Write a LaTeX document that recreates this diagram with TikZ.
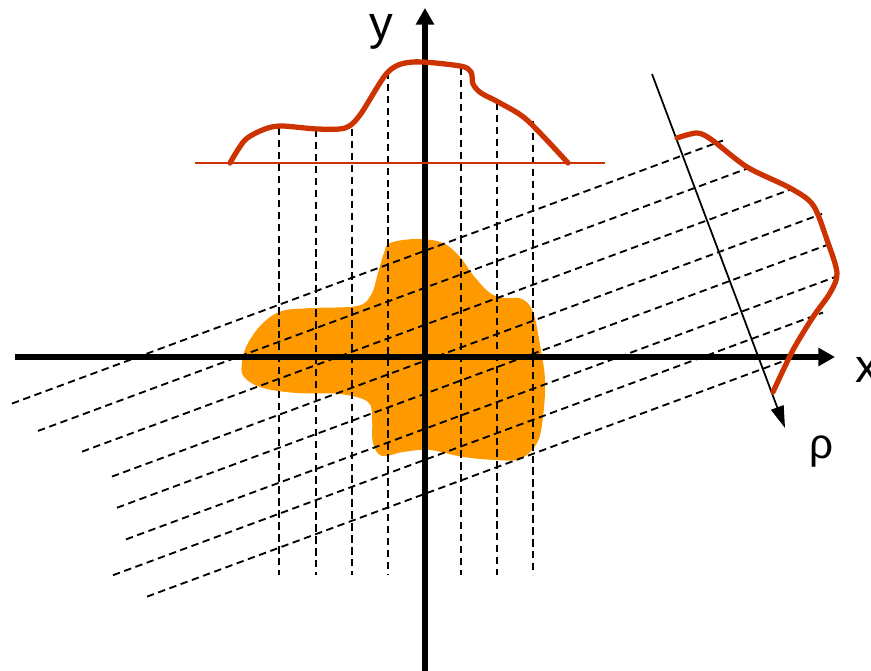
\documentclass[tikz,border=0pt]{standalone}
\usepackage{fontspec}
\setmainfont{Liberation Sans}
\usepackage{tikz}
\usetikzlibrary{arrows.meta}
\definecolor{profRed}{RGB}{204, 51, 0}
\definecolor{blobOrange}{RGB}{255, 153, 0}

\begin{document}
\begin{tikzpicture}[x=0.02cm, y=-0.02cm,
    axis/.style={line width=3.1pt, -{Triangle[length=9.5pt, width=10pt]}},
    ray/.style={line width=1.05pt, dash pattern=on 4.2pt off 2.6pt},
    profile/.style={line width=3pt, profRed, line cap=round, line join=round}]
    \useasboundingbox (0,0) rectangle (871,671);
    \fill[blobOrange] plot[smooth cycle, tension=0.6] coordinates {
        (390,243) (417,239) (443,243) (460,257) (473,275) (490,293) (505,298)
        (522,299) (533,312) (540,345) (545,380) (543,417) (537,443) (520,459)
        (497,460) (463,457) (430,450) (403,452) (382,456) (373,443) (372,420)
        (368,402) (340,394) (297,393) (263,388) (244,377) (242,362) (248,343)
        (263,323) (282,311) (313,308) (357,306) (371,295) (378,273) (384,253)};
    \foreach \x/\top in {279/128, 316/130, 352/129, 388/72, 461/68, 497/103, 533/121} {
        \draw[ray] (\x,\top) -- (\x,575);
    }
    \foreach \xa/\xb/\c in {12/723/408, 38/748/445, 82/792/482, 112/822/518,
                            117/828/551, 126/837/586, 113/823/617, 147/793/651} {
        \draw[ray] (\xa,{\c-0.37*\xa}) -- (\xb,{\c-0.37*\xb});
    }
    \coordinate (xL) at (15,357);
    \coordinate (xR) at (835,357);
    \coordinate (yB) at (425,675);
    \coordinate (yT) at (425,8);
    \coordinate (rhoS) at (652,74);
    \coordinate (rhoE) at (785,428);
    \coordinate (baseL) at (195,163);
    \coordinate (baseR) at (605,163);
    \draw[axis] (xL) -- (xR);
    \draw[axis] (yB) -- (yT);
    \draw[line width=1pt, -{Triangle[length=12.5pt, width=7.5pt]}] (rhoS) -- (rhoE);
    \draw[profRed, line width=0.9pt] (baseL) -- (baseR);
    \draw[profile] plot[smooth, tension=0.5] coordinates {
        (230,163) (245,140) (265,129) (282,126) (317,129) (345,128) (360,115)
        (388,72) (413,62) (460,66) (471,72) (473,84) (481,93) (500,103)
        (527,120) (568,163)};
    \draw[profile] plot[smooth, tension=0.5] coordinates {
        (677,138) (697,133) (712,140) (747,167) (790,188) (813,205) (827,240)
        (837,273) (830,293) (813,317) (793,350) (773,392)};
    \node[inner sep=0pt, font=\fontsize{27}{30}\selectfont] (ylabel) at (381,32) {y};
    \node[inner sep=0pt, anchor=base west, font=\fontsize{27}{30}\selectfont] (xlabel) at (855,383) {x};
    \node[inner sep=0pt, font=\fontsize{24}{28}\selectfont] (rholabel) at (821,452) {ρ};
\end{tikzpicture}
\end{document}
